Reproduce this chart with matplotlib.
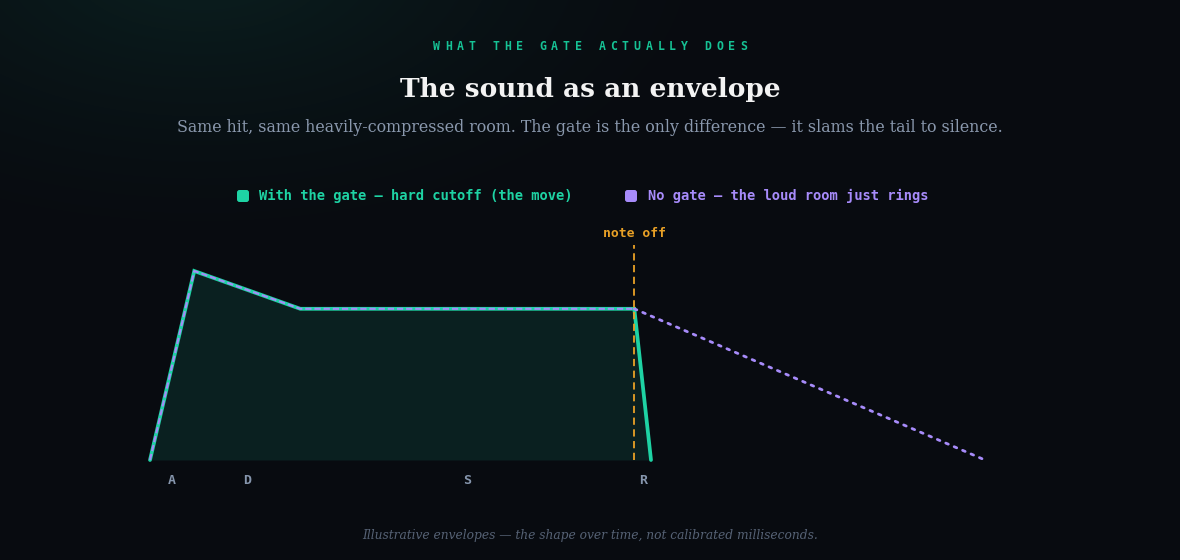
import numpy as np
import matplotlib.pyplot as plt
from matplotlib.patches import FancyBboxPatch
from matplotlib.transforms import IdentityTransform

# envelope data (arbitrary time units, level 0..1)
times = [0, 5.3, 18, 58, 60]
gate_level = [0, 1.0, 0.8, 0.8, 0]
nogate_times = [0, 5.3, 18, 58, 100]
nogate_level = [0, 1.0, 0.8, 0.8, 0]
note_off = 58
phase_names = ["A", "D", "S", "R"]

BG = "#080b10"
TEAL = "#1ed3a4"
PURPLE = "#a78bfa"
ORANGE = "#e9a126"
MUTED = "#8696ad"

W, H = 1180, 560
fig = plt.figure(figsize=(W / 100, H / 100), dpi=100, facecolor=BG)

def fx(x):
    return x / W

def fy(y):
    return 1 - y / H

# background glow, top-left
bg = fig.add_axes([0, 0, 1, 1])
yy, xx = np.mgrid[0:H, 0:W]
d = np.sqrt(((xx - 200) / 560.0) ** 2 + ((yy + 40) / 300.0) ** 2)
glow = np.clip(1 - d, 0, 1) ** 1.5
base = np.array([8, 11, 16]) / 255.0
tint = np.array([11, 32, 32]) / 255.0
img = base + (tint - base) * glow[..., None]
bg.imshow(img, aspect="auto", extent=[0, 1, 0, 1])
bg.axis("off")

# chart area: t=0..100 -> x 150..985 px, level 0 at y=460, level 1 at y=271
ax = fig.add_axes([fx(150), fy(460), 835 / W, 189 * 1.25 / H])
ax.set_xlim(0, 100)
ax.set_ylim(0, 1.25)
ax.axis("off")

ax.fill_between(times, gate_level, 0, color=TEAL, alpha=0.11, lw=0)
ax.plot(times, gate_level, color=TEAL, lw=2.7, solid_joinstyle="miter",
        solid_capstyle="round", clip_on=False)
# no-gate line: same shape, then the long ring-out
ax.plot(nogate_times[:4], nogate_level[:4], color=PURPLE, lw=1.5,
        linestyle=(0, (3.0, 1.4)), clip_on=False)
ax.plot(nogate_times[3:], nogate_level[3:], color=PURPLE, lw=2.0,
        linestyle=(0, (1.0, 2.3)), dash_capstyle="round", clip_on=False)

# note off marker
ax.plot([note_off, note_off], [0, 1.14], color=ORANGE, lw=1.3,
        linestyle=(0, (4, 2.5)), clip_on=False)
ax.text(note_off, 1.2, "note off", color=ORANGE, ha="center", va="center",
        family="DejaVu Sans Mono", fontsize=9.4, fontweight="bold")

# phase labels at segment midpoints
for i, name in enumerate(phase_names):
    mid = (times[i] + times[i + 1]) / 2
    ax.text(mid, -0.11, name, color=MUTED, ha="center", va="center",
            family="DejaVu Sans Mono", fontsize=9.5, fontweight="bold")

# kicker with wide letter spacing
kicker = "WHAT THE GATE ACTUALLY DOES"
step = 11.8
x0 = 590 - step * (len(kicker) - 1) / 2
for i, ch in enumerate(kicker):
    fig.text(fx(x0 + i * step), fy(47), ch, color="#16c295", ha="center",
             va="center", family="DejaVu Sans Mono", fontsize=8.3, fontweight="bold")

fig.text(0.5, fy(89), "The sound as an envelope", color="#f3f3f3", ha="center",
         va="center", family="DejaVu Serif", fontsize=19, fontweight="bold")
fig.text(0.5, fy(128), "Same hit, same heavily-compressed room. The gate is the only "
         "difference \u2014 it slams the tail to silence.", color="#8a98ad",
         ha="center", va="center", family="DejaVu Serif", fontsize=11.4)

# legend
for sx, tx, col, label in [(243, 259, TEAL, "With the gate \u2014 hard cutoff (the move)"),
                           (631, 648, PURPLE, "No gate \u2014 the loud room just rings")]:
    box = FancyBboxPatch((sx - 6, H - 196 - 6), 12, 12,
                         boxstyle="round,pad=0,rounding_size=2.5",
                         transform=IdentityTransform(), facecolor=col, lw=0)
    fig.patches.append(box)
    fig.text(fx(tx), fy(196), label, color=col, ha="left", va="center",
             family="DejaVu Sans Mono", fontsize=9.95, fontweight="bold")

fig.text(0.5, fy(535), "Illustrative envelopes \u2014 the shape over time, not "
         "calibrated milliseconds.", color="#566275", ha="center", va="center",
         family="DejaVu Serif", fontsize=8.8, style="italic")

fig.savefig("out.png", dpi=100, facecolor=BG)
